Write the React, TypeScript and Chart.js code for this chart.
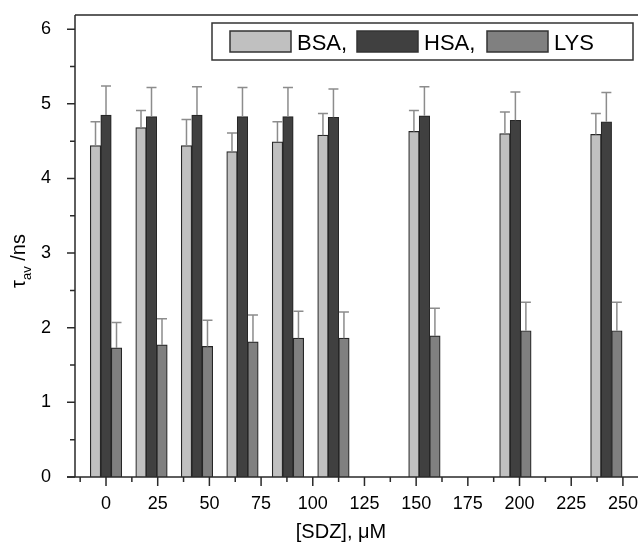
import React, { useEffect, useRef } from "react";
import { Chart, registerables } from "chart.js";

Chart.register(...registerables);

const concentrations = [0, 22, 44, 66, 88, 110, 154, 198, 242];
const bsaValues = [4.44, 4.68, 4.44, 4.36, 4.49, 4.58, 4.63, 4.6, 4.59];
const bsaErrors = [0.32, 0.23, 0.35, 0.25, 0.27, 0.29, 0.28, 0.29, 0.28];
const hsaValues = [4.85, 4.83, 4.85, 4.83, 4.83, 4.82, 4.84, 4.78, 4.76];
const hsaErrors = [0.39, 0.39, 0.38, 0.39, 0.39, 0.38, 0.39, 0.38, 0.39];
const lysValues = [1.73, 1.77, 1.75, 1.81, 1.86, 1.86, 1.89, 1.96, 1.96];
const lysErrors = [0.34, 0.35, 0.35, 0.36, 0.36, 0.35, 0.37, 0.38, 0.38];
const seriesLabels = ["BSA,", "HSA,", "LYS"];
const seriesColors = ["#c0c0c0", "#404040", "#808080"];
const xTickValues = [0, 25, 50, 75, 100, 125, 150, 175, 200, 225, 250];
const xMinorTicks = [-12.5, 12.5, 37.5, 62.5, 87.5, 112.5, 137.5, 162.5, 187.5, 212.5, 237.5];
const yTickValues = [0, 1, 2, 3, 4, 5, 6];
const yMinorTicks = [0.5, 1.5, 2.5, 3.5, 4.5, 5.5];

const FONT = "'Liberation Sans', Arial, Helvetica, sans-serif";
const AXIS = "#2a2a2a";

const errorBarPlugin = {
  id: "errorBars",
  afterDatasetsDraw(chart: any) {
    const ctx = chart.ctx;
    const yScale = chart.scales.y;
    ctx.save();
    ctx.strokeStyle = "#8c8c8c";
    ctx.lineWidth = 1.5;
    chart.data.datasets.forEach((ds: any, di: number) => {
      const meta = chart.getDatasetMeta(di);
      meta.data.forEach((el: any, i: number) => {
        const v = ds.data[i].y;
        const e = ds.errors[i];
        const yTop = yScale.getPixelForValue(v + e);
        const yBar = yScale.getPixelForValue(v);
        ctx.beginPath();
        ctx.moveTo(el.x, yBar);
        ctx.lineTo(el.x, yTop);
        ctx.moveTo(el.x - 5, yTop);
        ctx.lineTo(el.x + 5, yTop);
        ctx.stroke();
      });
    });
    ctx.restore();
  },
};

const decorPlugin = {
  id: "decor",
  afterDraw(chart: any) {
    const ctx = chart.ctx;
    const { left, right, top, bottom } = chart.chartArea;
    const xs = chart.scales.x;
    const ys = chart.scales.y;
    ctx.save();
    ctx.strokeStyle = AXIS;
    ctx.lineWidth = 1.5;
    ctx.beginPath();
    ctx.moveTo(left, top);
    ctx.lineTo(right, top);
    ctx.moveTo(left, top);
    ctx.lineTo(left, bottom);
    ctx.moveTo(left - 8, bottom);
    ctx.lineTo(right, bottom);
    ctx.stroke();
    ctx.beginPath();
    xTickValues.forEach((v) => {
      const px = xs.getPixelForValue(v);
      ctx.moveTo(px, bottom);
      ctx.lineTo(px, bottom + 9);
    });
    xMinorTicks.forEach((v) => {
      const px = xs.getPixelForValue(v);
      ctx.moveTo(px, bottom);
      ctx.lineTo(px, bottom + 5);
    });
    yTickValues.forEach((v) => {
      const py = ys.getPixelForValue(v);
      ctx.moveTo(left, py);
      ctx.lineTo(left - 8, py);
    });
    yMinorTicks.forEach((v) => {
      const py = ys.getPixelForValue(v);
      ctx.moveTo(left, py);
      ctx.lineTo(left - 5, py);
    });
    ctx.stroke();

    // legend
    ctx.lineWidth = 1.5;
    ctx.strokeStyle = "#333";
    ctx.fillStyle = "#fff";
    ctx.fillRect(212, 23, 421, 37);
    ctx.strokeRect(212, 23, 421, 37);
    const swX = [230, 357, 487];
    ctx.font = `22px ${FONT}`;
    ctx.textBaseline = "alphabetic";
    ctx.textAlign = "left";
    chart.data.datasets.forEach((ds: any, i: number) => {
      ctx.fillStyle = ds.backgroundColor;
      ctx.fillRect(swX[i], 31, 61, 21);
      ctx.strokeRect(swX[i], 31, 61, 21);
      ctx.fillStyle = "#000";
      ctx.fillText(ds.label, swX[i] + 67, 50);
    });

    ctx.font = `20px ${FONT}`;
    ctx.textAlign = "center";
    ctx.fillStyle = "#000";
    ctx.fillText("[SDZ], \u03bcM", 341, 538);

    ctx.save();
    ctx.translate(25, 261);
    ctx.rotate(-Math.PI / 2);
    ctx.textAlign = "left";
    const big = `20px ${FONT}`;
    const small = `13px ${FONT}`;
    ctx.font = big;
    const w1 = ctx.measureText("\u03c4").width;
    const w3 = ctx.measureText(" /ns").width;
    ctx.font = small;
    const w2 = ctx.measureText("av").width;
    const total = w1 + w2 + w3;
    let x0 = -total / 2;
    ctx.font = big;
    ctx.fillText("\u03c4", x0, 0);
    x0 += w1;
    ctx.font = small;
    ctx.fillText("av", x0, 6);
    x0 += w2;
    ctx.font = big;
    ctx.fillText(" /ns", x0, 0);
    ctx.restore();

    ctx.restore();
  },
};

const zeroPad = (s: any) => {
  s.paddingTop = 0;
  s.paddingBottom = 0;
  s.paddingLeft = 0;
  s.paddingRight = 0;
};

export default function App() {
  const ref = useRef<HTMLCanvasElement | null>(null);
  useEffect(() => {
    if (!ref.current) return;
    const mk = (vals: number[]) => concentrations.map((c, i) => ({ x: c, y: vals[i] }));
    const chart = new Chart(ref.current, {
      type: "bar",
      data: {
        datasets: [
          { label: seriesLabels[0], data: mk(bsaValues), errors: bsaErrors, backgroundColor: seriesColors[0] },
          { label: seriesLabels[1], data: mk(hsaValues), errors: hsaErrors, backgroundColor: seriesColors[1] },
          { label: seriesLabels[2], data: mk(lysValues), errors: lysErrors, backgroundColor: seriesColors[2] },
        ].map((d) => ({ ...d, borderColor: "#262626", borderWidth: 1.2, barThickness: 10.5 })) as any,
      },
      options: {
        animation: false,
        responsive: false,
        layout: { padding: { top: 15, right: 0, left: 0, bottom: 0 } },
        plugins: { legend: { display: false }, tooltip: { enabled: false } },
        scales: {
          x: {
            type: "linear",
            offset: false,
            min: -15,
            max: 257.3,
            grid: { display: false },
            border: { display: false },
            afterBuildTicks: (s: any) => {
              s.ticks = xTickValues.map((v) => ({ value: v }));
            },
            afterFit: (s: any) => {
              s.height = 68;
              zeroPad(s);
            },
            ticks: {
              padding: 8,
              maxRotation: 0,
              autoSkip: false,
              color: "#000",
              font: { family: FONT, size: 18 },
            },
          },
          y: {
            min: 0,
            max: 6.19,
            grid: { display: false },
            border: { display: false },
            afterBuildTicks: (s: any) => {
              s.ticks = yTickValues.map((v) => ({ value: v }));
            },
            afterFit: (s: any) => {
              s.width = 75;
              zeroPad(s);
            },
            ticks: {
              padding: 16,
              color: "#000",
              font: { family: FONT, size: 18 },
            },
          },
        },
      },
      plugins: [errorBarPlugin, decorPlugin],
    } as any);
    return () => chart.destroy();
  }, []);
  return (
    <div style={{ position: "fixed", left: 0, top: 0, width: 638, height: 545, background: "#fff" }}>
      <canvas ref={ref} width={638} height={545} style={{ display: "block" }} />
    </div>
  );
}
